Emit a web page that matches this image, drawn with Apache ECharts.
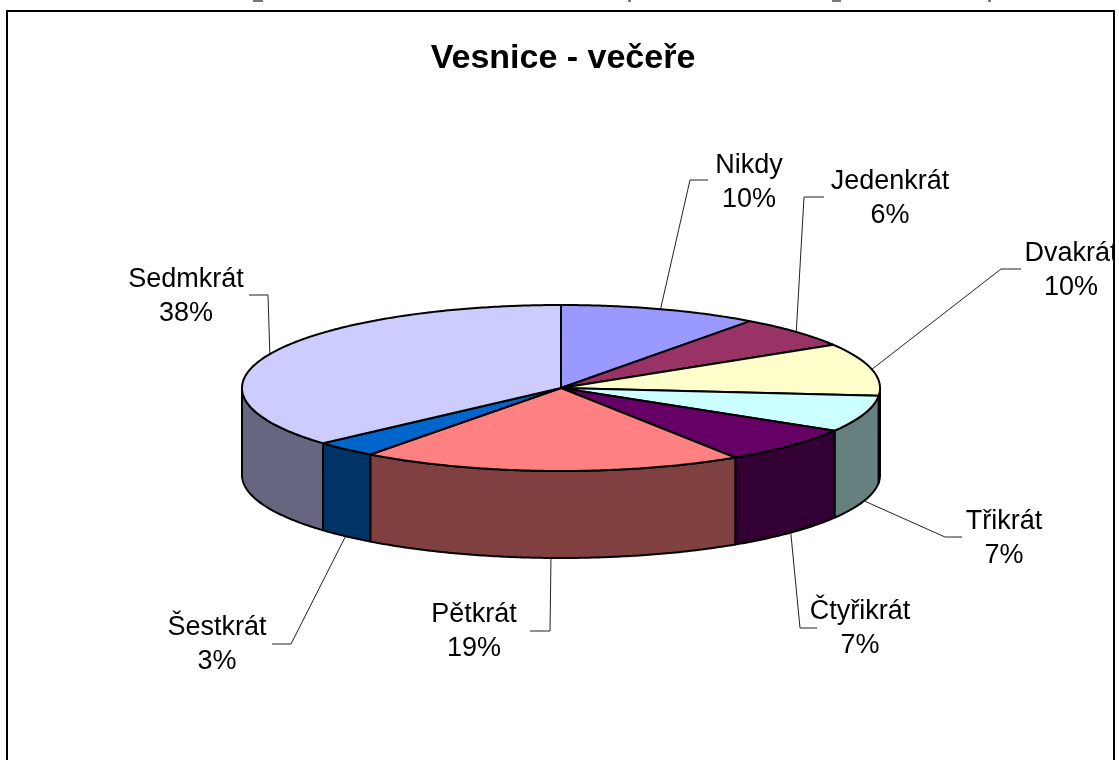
<!DOCTYPE html>
<html><head><meta charset="utf-8">
<script src="https://cdn.jsdelivr.net/npm/echarts@6/dist/echarts.min.js"></script>
<style>html,body{margin:0;padding:0;background:#fff}#c{width:1119px;height:760px}</style>
</head><body><div id="c"></div>
<script>
const categories = ['Nikdy','Jedenkrát','Dvakrát','Třikrát','Čtyřikrát','Pětkrát','Šestkrát','Sedmkrát'];
const values = [10.1, 6.2, 10.2, 7.1, 7.2, 19.4, 3.2, 36.6];
const percentLabels = ['10%','6%','10%','7%','7%','19%','3%','38%'];
const topColors = ['#9999FF','#993366','#FFFFCC','#CCFFFF','#660066','#FF8080','#0066CC','#CCCCFF'];
const wallColors = ['#4D4D80','#4D1A33','#808066','#668080','#330033','#804040','#003366','#666680'];
const titleText = 'Vesnice - večeře';

// layout of the pie
const CX = 561, CY = 388, RX = 319, RY = 83, DEPTH = 87;
// label centre and leader elbow/end for each slice
const labelCentres = [[749,183],[890,199],[1071,271],[1004,539],[860,629],[474,632],[217,645],[186,296.5]];
const leaderElbows = [[[690,180],[708,180]],[[804,197],[824,197]],[[1001,269],[1021,269]],[[945,537],[962,537]],
                      [[800,628],[817,628]],[[550,631],[530,631]],[[291,644],[272,644]],[[268,295],[249,295]]];
const total = values.reduce((a,b)=>a+b,0);
let acc = 0;
const spans = values.map(v=>{const s=acc/total*Math.PI*2; acc+=v; return [s, acc/total*Math.PI*2];});
const pt = (a,dy)=>[CX+RX*Math.sin(a), CY-RY*Math.cos(a)+(dy||0)];
function arc(a0,a1,dy){const n=Math.max(2,Math.ceil((a1-a0)/0.01));const p=[];for(let i=0;i<=n;i++)p.push(pt(a0+(a1-a0)*i/n,dy));return p;}

function renderItem(params, api){
  const i = params.dataIndex;
  const [a0,a1] = spans[i];
  const children = [];
  // wall: visible only on the front half of the ellipse
  const w0 = Math.max(a0, Math.PI/2), w1 = Math.min(a1, Math.PI*1.5);
  if (w1 > w0){
    const top = arc(w0,w1,0), bot = arc(w0,w1,DEPTH).reverse();
    children.push({type:'polygon',z2:1,shape:{points:top.concat(bot)},
      style:{fill:wallColors[i],stroke:'#000',lineWidth:2,lineJoin:'round'}});
  }
  // top face
  children.push({type:'polygon',z2:5,shape:{points:[[CX,CY]].concat(arc(a0,a1,0))},
    style:{fill:topColors[i],stroke:'#000',lineWidth:2,lineJoin:'round'}});
  // leader line anchored at the slice's mid angle
  const mid = (a0+a1)/2;
  const onFront = Math.cos(mid) < 0;
  const start = pt(mid, onFront ? DEPTH : 0);
  children.push({type:'polyline',z2:2,shape:{points:[start].concat(leaderElbows[i])},
    style:{fill:null,stroke:'#222',lineWidth:1}});
  // label
  children.push({type:'text',z2:6,x:labelCentres[i][0],y:labelCentres[i][1],
    style:{text:categories[i]+'\n'+percentLabels[i],align:'center',verticalAlign:'middle',
      font:'27px "Liberation Sans"',lineHeight:34,fill:'#000'}});
  return {type:'group',children};
}

const chart = echarts.init(document.getElementById('c'),null,{renderer:'canvas'});
chart.setOption({
  animation:false,
  backgroundColor:'#fff',
  title:{text:titleText,left:563,top:37,textAlign:'center',
    textStyle:{fontFamily:'Liberation Sans',fontWeight:'bold',fontSize:34,color:'#000'},
    padding:[5,10,5,0]},
  graphic:[
    {type:'rect',z:100,shape:{x:7,y:11,width:1107,height:760},style:{fill:null,stroke:'#000',lineWidth:2}},
    {type:'rect',z:99,shape:{x:1115,y:0,width:4,height:760},style:{fill:'#fff'}},
    {type:'rect',z:98,shape:{x:253,y:0,width:10,height:2},style:{fill:'#777'}},
    {type:'rect',z:98,shape:{x:628,y:0,width:3,height:2},style:{fill:'#777'}},
    {type:'rect',z:98,shape:{x:832,y:0,width:9,height:2},style:{fill:'#777'}},
    {type:'rect',z:98,shape:{x:988,y:0,width:3,height:2},style:{fill:'#777'}}
  ],
  series:[{type:'custom',coordinateSystem:'none',renderItem,clip:false,
    data:values.map((v,i)=>({name:categories[i],value:v})),silent:true}]
});
</script></body></html>
